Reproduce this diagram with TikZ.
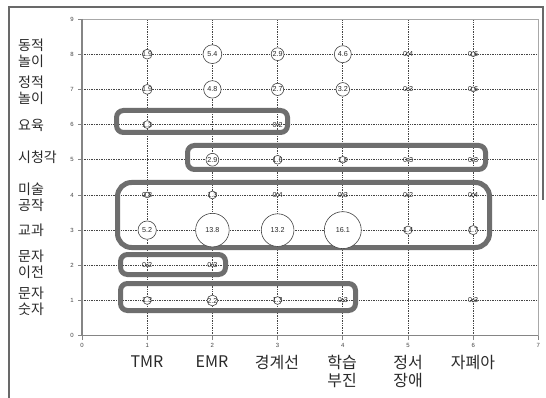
\documentclass[tikz,border=0pt]{standalone}
\usepackage{fontspec}
\setmainfont{Noto Sans CJK KR}
\newfontfamily\numfont{Liberation Sans}
\definecolor{boxgray}{HTML}{6E6E6E}
\definecolor{txtc}{HTML}{2A2A2A}
\definecolor{gridc}{HTML}{444444}
\definecolor{framec}{HTML}{A8A8A8}
\definecolor{axisc}{HTML}{858585}
\tikzset{
  outerframe/.style={draw=gridc!80, line width=1.3pt},
  gridline/.style={draw=gridc, densely dotted, line width=0.7pt},
  plotframe/.style={draw=framec, line width=0.9pt},
  axisline/.style={draw=axisc, line width=1.3pt},
  tickmark/.style={draw=axisc, line width=0.8pt},
  ticklab/.style={font=\numfont\fontsize{6}{6.5}\selectfont, text=gridc, inner sep=0pt},
  groupbox/.style={draw=boxgray, line width=5pt, rounded corners=7pt},
  bigbox/.style={draw=boxgray, line width=5pt, rounded corners=14pt},
  bubble/.style={draw=gridc, fill=white, line width=0.6pt},
  blabel/.style={font=\numfont\fontsize{7.2}{8}\selectfont, text=txtc, inner sep=0pt},
  ylab/.style={font=\fontsize{14}{16}\selectfont, text=txtc, align=left, inner sep=0pt, anchor=west},
  xlab/.style={font=\fontsize{16}{18}\selectfont, text=txtc, align=center, inner sep=0pt, anchor=north}
}
\begin{document}
\begin{tikzpicture}[x=1pt,y=-1pt]
\useasboundingbox (0,0) rectangle (546,398);
\fill[white] (0,0) rectangle (546,398);
% outer frame
\draw[outerframe] (9,398) -- (9,7) -- (543,7) -- (543,200);
% plot
\begin{scope}[shift={(82,335.7)},x=65.2pt,y=35.19pt]
  \foreach \u in {1,...,6} { \draw[gridline] (\u,0) -- (\u,9); }
  \foreach \v in {1,...,8} { \draw[gridline] (0,\v) -- (7,\v); }
  \draw[plotframe] (0,0) rectangle (7,9);
  \draw[axisline] (0,9) -- (0,0) -- (7,0);
  \foreach \v in {0,...,9} {
    \draw[tickmark] (0,\v) -- ++(-4pt,0);
    \node[ticklab] (yt\v) at ([xshift=-10pt]0,\v) {\v};
  }
  \foreach \u in {0,...,7} {
    \draw[tickmark] (\u,0) -- ++(0,-4pt);
    \node[ticklab] (xt\u) at ([yshift=-9.5pt]\u,0) {\u};
  }
\end{scope}
% group boxes
\draw[groupbox] (116.5,110.5) rectangle (287.5,132.5);
\draw[groupbox] (187.5,145.5) rectangle (485.5,169.5);
\draw[bigbox]   (117.5,182.5) rectangle (489.5,247.5);
\draw[groupbox] (120.5,254.5) rectangle (225.5,274.5);
\draw[groupbox] (120.5,283.5) rectangle (355.5,310.5);
% bubbles
\begin{scope}[shift={(82,335.7)},x=65.2pt,y=35.19pt]
  \foreach \u/\v/\val in {
    1/8/1.9, 2/8/5.4, 3/8/2.9, 4/8/4.6, 5/8/0.4, 6/8/0.6,
    1/7/1.9, 2/7/4.8, 3/7/2.7, 4/7/3.2, 5/7/0.3, 6/7/0.6,
    1/6/1.3, 3/6/0.2,
    2/5/2.9, 3/5/1.6, 4/5/1.0, 5/5/0.3, 6/5/0.3,
    1/4/0.8, 2/4/1.3, 3/4/0.4, 4/4/0.3, 5/4/0.2, 6/4/0.4,
    1/3/5.2, 2/3/13.8, 3/3/13.2, 4/3/16.1, 5/3/1.4, 6/3/1.7,
    1/2/0.2, 2/2/0.3,
    1/1/1.3, 2/1/2.2, 3/1/1.3, 4/1/0.3, 6/1/0.3} {
    \pgfmathsetmacro\rr{3.3*pow(\val,0.62)}
    \draw[bubble] (\u,\v) circle[radius=\rr pt];
    \node[blabel] (b\u\v) at (\u,\v) {\val};
  }
\end{scope}
% left category labels
\node[ylab] (l8) at (18,53) {동적\\놀이};
\node[ylab] (l7) at (18,90) {정적\\놀이};
\node[ylab] (l6) at (18,125) {요육};
\node[ylab] (l5) at (18,157) {시청각};
\node[ylab] (l4) at (18,197) {미술\\공작};
\node[ylab] (l3) at (18,230) {교과};
\node[ylab] (l2) at (18,264) {문자\\이전};
\node[ylab] (l1) at (18,301) {문자\\숫자};
% bottom labels
\node[xlab] (c1) at (147,356) {TMR};
\node[xlab] (c2) at (212,356) {EMR};
\node[xlab] (c3) at (277,355) {경계선};
\node[xlab] (c4) at (342,355) {학습\\부진};
\node[xlab] (c5) at (408,355) {정서\\장애};
\node[xlab] (c6) at (473,355) {자폐아};
\end{tikzpicture}
\end{document}
